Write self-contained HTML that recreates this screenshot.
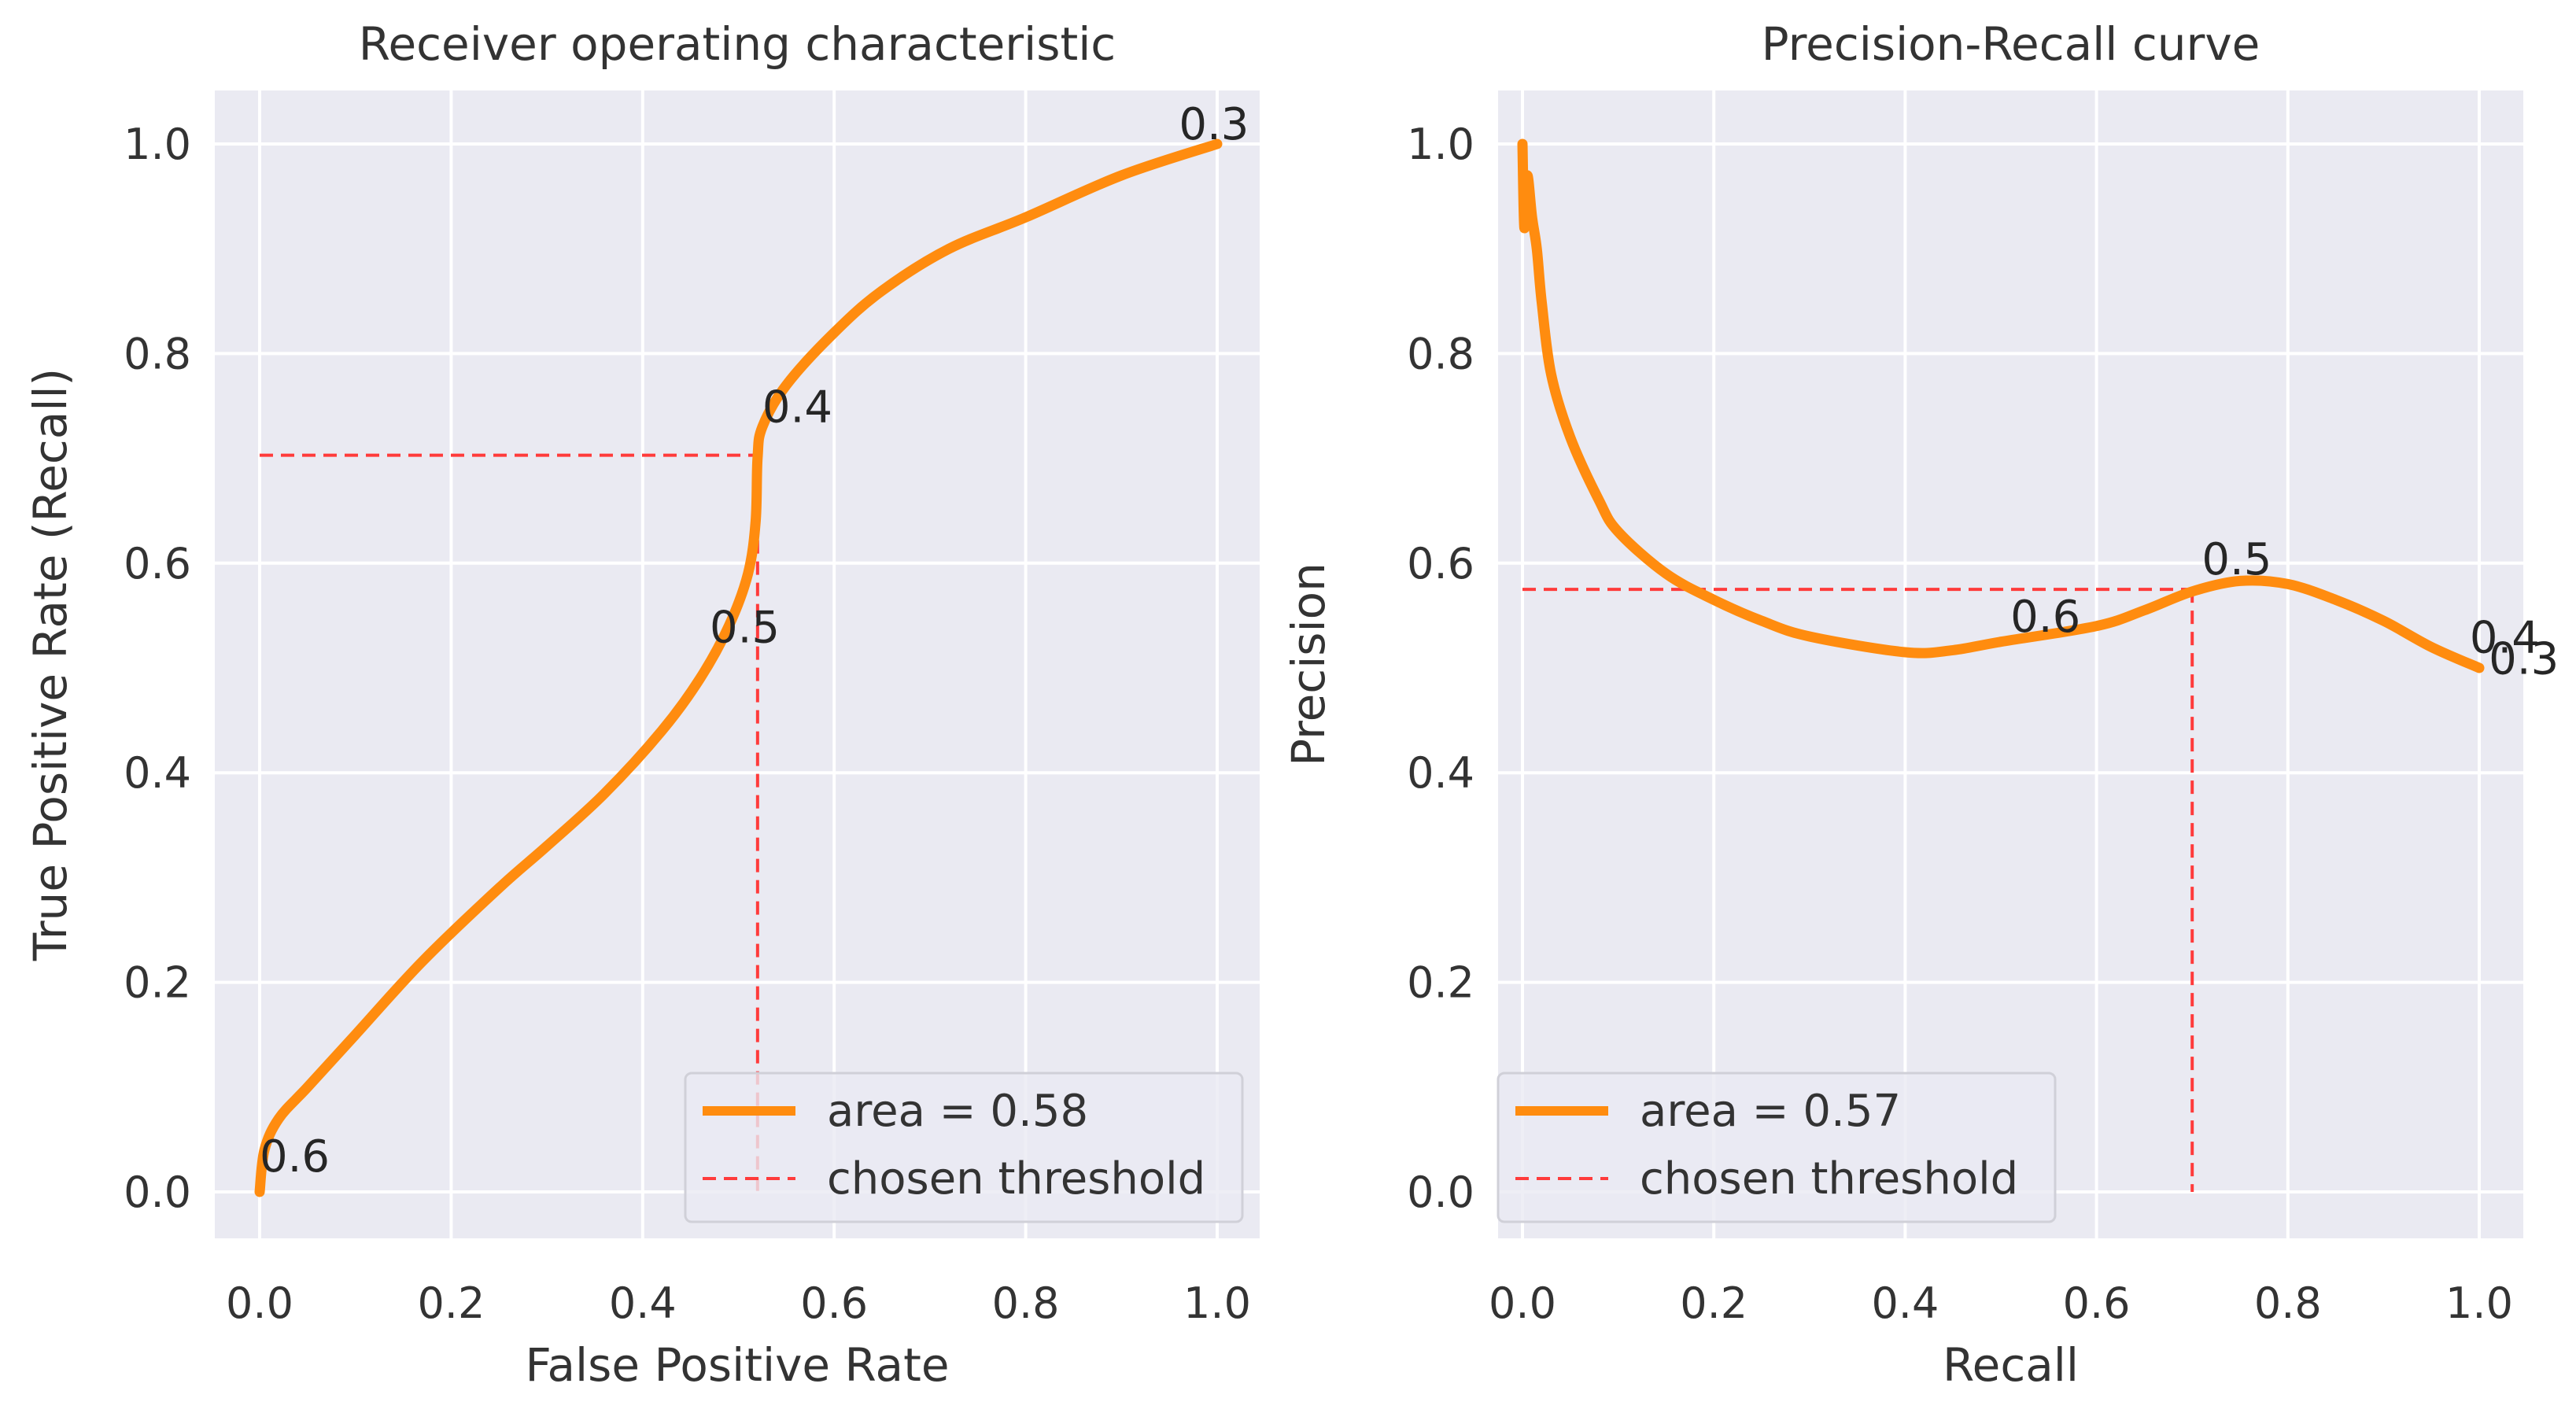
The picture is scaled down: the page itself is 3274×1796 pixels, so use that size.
<!DOCTYPE html>
<html><head><meta charset="utf-8">
<style>
html,body{margin:0;padding:0;background:#fff;}
svg{display:block;font-family:"DejaVu Sans","Liberation Sans",sans-serif;}
</style></head>
<body>
<svg id="fig" width="3274" height="1796" viewBox="0 0 3274 1796" xmlns="http://www.w3.org/2000/svg"></svg>
<script>
// ROC data
const rocFpr = [0,0.005,0.02,0.05,0.1,0.17,0.25,0.3,0.36,0.42,0.46,0.49,0.51,0.518,0.52,0.525,0.55,0.6,0.65,0.72,0.8,0.9,1];
const rocTpr = [0,0.04,0.07,0.1,0.15,0.22,0.29,0.33,0.38,0.44,0.49,0.54,0.59,0.64,0.7,0.73,0.77,0.82,0.86,0.9,0.93,0.97,1];
const rocThreshX = [0.52];
const rocThreshY = [0.703];
const rocLabels = ["0.6","0.5","0.4","0.3"];
const rocLabelX = [0.0,0.47,0.525,0.96];
const rocLabelY = [0.015,0.52,0.73,1.0];
// PR data
const prRecall = [0,0.002,0.005,0.01,0.015,0.02,0.03,0.05,0.08,0.1,0.15,0.2,0.25,0.3,0.4,0.45,0.5,0.6,0.65,0.7,0.75,0.8,0.85,0.9,0.95,1];
const prPrecision = [1.0,0.92,0.97,0.93,0.9,0.85,0.78,0.72,0.66,0.63,0.59,0.565,0.545,0.53,0.515,0.517,0.525,0.54,0.555,0.573,0.583,0.58,0.565,0.545,0.52,0.5];
const prThreshX = [0.7];
const prThreshY = [0.575];
const prLabels = ["0.6","0.5","0.4","0.3"];
const prLabelX = [0.51,0.71,0.99,1.01];
const prLabelY = [0.53,0.585,0.51,0.49];
const ticks = [0,0.2,0.4,0.6,0.8,1.0];
const tickLabels = ["0.0","0.2","0.4","0.6","0.8","1.0"];

const NS="http://www.w3.org/2000/svg";
const svg=document.getElementById('fig');
function mk(tag,attrs,parent){const e=document.createElementNS(NS,tag);for(const k in attrs)e.setAttribute(k,attrs[k]);(parent||svg).appendChild(e);return e;}

function smoothPath(pts){
  let d='M'+pts[0][0].toFixed(1)+','+pts[0][1].toFixed(1);
  for(let i=0;i<pts.length-1;i++){
    const p0=pts[Math.max(0,i-1)],p1=pts[i],p2=pts[i+1],p3=pts[Math.min(pts.length-1,i+2)];
    const c1=[p1[0]+(p2[0]-p0[0])/6,p1[1]+(p2[1]-p0[1])/6];
    const c2=[p2[0]-(p3[0]-p1[0])/6,p2[1]-(p3[1]-p1[1])/6];
    d+=`C${c1[0].toFixed(1)},${c1[1].toFixed(1)} ${c2[0].toFixed(1)},${c2[1].toFixed(1)} ${p2[0].toFixed(1)},${p2[1].toFixed(1)}`;
  }
  return d;
}

function panel(cfg){
  const g=mk('g',{});
  
  
  const sx=v=>cfg.x0+(cfg.x1-cfg.x0)*v;
  const sy=v=>cfg.y0+(cfg.y1-cfg.y0)*v;
  const bg=mk('rect',{x:cfg.bx0,y:115,width:cfg.bx1-cfg.bx0,height:1574-115,fill:'#eaeaf2'},g);
  
  
  ticks.forEach((t,i)=>{
    const gx=mk('line',{x1:sx(t),x2:sx(t),y1:115,y2:1574,stroke:'#fff','stroke-width':4},g);
    
    
    const gy=mk('line',{x1:cfg.bx0,x2:cfg.bx1,y1:sy(t),y2:sy(t),stroke:'#fff','stroke-width':4},g);
    
    
    const xt=mk('text',{x:sx(t),y:1675,'font-size':54,fill:'#333','text-anchor':'middle'},g);
    xt.textContent=tickLabels[i];
    
    
    const yt=mk('text',{x:cfg.bx0-30,y:sy(t)+19,'font-size':54,fill:'#333','text-anchor':'end'},g);
    yt.textContent=tickLabels[i];
    
    
  });
  const tt=mk('text',{x:(cfg.bx0+cfg.bx1)/2,y:76,'font-size':58,fill:'#333','text-anchor':'middle'},g);
  tt.textContent=cfg.title;
  
  
  const xl=mk('text',{x:(cfg.bx0+cfg.bx1)/2,y:1755,'font-size':58,fill:'#333','text-anchor':'middle'},g);
  xl.textContent=cfg.xlabel;
  
  
  const ylx=cfg.ylx, yly=(115+1574)/2;
  const yl=mk('text',{x:ylx,y:yly,'font-size':58,fill:'#333','text-anchor':'middle',transform:`rotate(-90 ${ylx} ${yly})`},g);
  yl.textContent=cfg.ylabel;
  
  
  const tx=cfg.tx[0], ty=cfg.ty[0];
  const th=mk('path',{d:`M${sx(0)},${sy(ty)} L${sx(tx)},${sy(ty)} M${sx(tx)},${sy(ty)} L${sx(tx)},${sy(0)}`,fill:'none',stroke:'#ff3b3b','stroke-width':4,'stroke-dasharray':'17 10'},g);
  
  
  const pts=cfg.xs.map((v,i)=>[sx(v),sy(cfg.ys[i])]);
  const c=mk('path',{d:smoothPath(pts),fill:'none',stroke:'#ff8c0f','stroke-width':13,'stroke-linejoin':'round','stroke-linecap':'round'},g);
  
  
  cfg.labels.forEach((l,i)=>{
    const t=mk('text',{x:sx(cfg.lx[i]),y:sy(cfg.ly[i])-6,'font-size':56,fill:'#262626'},g);
    t.textContent=l;
    
    
  });
  const L=mk('g',{},g);
  
  
  mk('rect',{x:cfg.lgx,y:1364,width:708,height:189,rx:8,fill:'#eaeaf2','fill-opacity':0.8,stroke:'#d0d0d8','stroke-width':3},L);
  const l1=mk('line',{x1:cfg.lgx+22,x2:cfg.lgx+140,y1:1412,y2:1412,stroke:'#ff8c0f','stroke-width':12},L);
  
  
  const t1=mk('text',{x:cfg.lgx+180,y:1431,'font-size':56,fill:'#333'},L);
  t1.textContent=cfg.area;
  
  
  const l2=mk('line',{x1:cfg.lgx+22,x2:cfg.lgx+140,y1:1498,y2:1498,stroke:'#ff3b3b','stroke-width':4,'stroke-dasharray':'17 10'},L);
  
  
  const t2=mk('text',{x:cfg.lgx+180,y:1517,'font-size':56,fill:'#333'},L);
  t2.textContent='chosen threshold';
  
  
}
panel({name:'roc-panel',bx0:273,bx1:1601,x0:330,x1:1547,y0:1515,y1:183,ylx:84,title:'Receiver operating characteristic',xlabel:'False Positive Rate',ylabel:'True Positive Rate (Recall)',xs:rocFpr,ys:rocTpr,tx:rocThreshX,ty:rocThreshY,labels:rocLabels,lx:rocLabelX,ly:rocLabelY,lgx:871,area:'area = 0.58'});
panel({name:'pr-panel',bx0:1904,bx1:3207,x0:1935,x1:3151,y0:1515,y1:183,ylx:1683,title:'Precision-Recall curve',xlabel:'Recall',ylabel:'Precision',xs:prRecall,ys:prPrecision,tx:prThreshX,ty:prThreshY,labels:prLabels,lx:prLabelX,ly:prLabelY,lgx:1904,area:'area = 0.57'});
</script>
</body></html>
